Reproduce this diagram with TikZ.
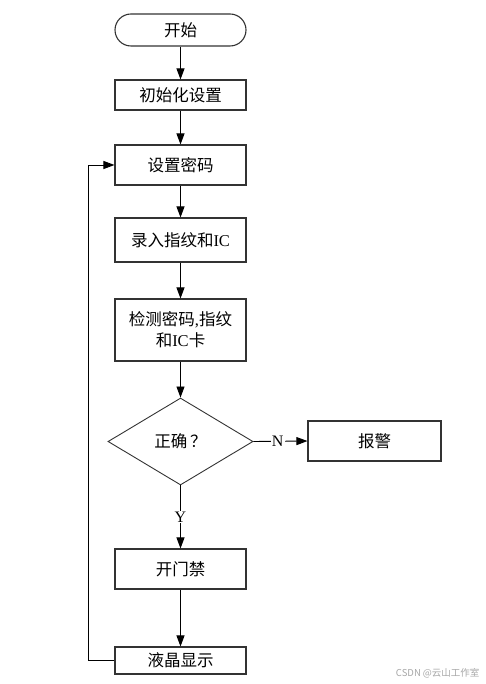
\documentclass[tikz,border=0pt]{standalone}
\usepackage{fontspec}
\setmainfont{Liberation Serif}
\newfontfamily\cjk{Noto Sans CJK SC}
\usetikzlibrary{arrows.meta,shapes.geometric,positioning}
\begin{document}
\begin{tikzpicture}[x=1pt,y=-1pt,
  box/.style={draw=black!80,line width=1.1pt,minimum width=131pt,inner sep=2pt,align=center,font=\fontsize{16.5}{21}\selectfont},
  term/.style={box,rounded corners=16pt,minimum height=32pt},
  dec/.style={draw=black!80,line width=0.9pt,diamond,aspect=1.67,minimum width=145pt,minimum height=87pt,inner sep=0pt,font=\fontsize{16.5}{21}\selectfont},
  arr/.style={draw,line width=0.9pt,-{Triangle[length=11pt,width=8pt]}},
  lab/.style={fill=white,inner sep=1pt,font=\fontsize{16}{18}\selectfont}]
\useasboundingbox (0,0) rectangle (486,684);
\node[term] (start) at (180.5,30) {\cjk 开始};
\node[box,minimum height=30pt] (init) at (180.5,95) {\cjk 初始化设置};
\node[box,minimum height=40pt] (pwd) at (180.5,165) {\cjk 设置密码};
\node[box,minimum height=44pt] (rec) at (180.5,240) {{\cjk 录入指纹和}IC};
\node[box,minimum height=62pt] (chk) at (180.5,330) {{\cjk 检测密码}{,}{\cjk 指纹}\\{\cjk 和}IC{\cjk 卡}};
\node[dec] (ok) at (180.5,441.5) {{\cjk 正确}\,{\cjk ？}};
\node[box,minimum width=133pt,minimum height=40pt] (alarm) at (374.5,441) {\cjk 报警};
\node[box,minimum height=40pt] (open) at (180.5,569) {\cjk 开门禁};
\node[box,minimum height=27pt] (lcd) at (180.5,660.5) {\cjk 液晶显示};
\coordinate (c1) at (88,660.5);
\coordinate (c2) at (88,165);
\draw[arr] (start) -- (init);
\draw[arr] (init) -- (pwd);
\draw[arr] (pwd) -- (rec);
\draw[arr] (rec) -- (chk);
\draw[arr] (chk) -- (ok);
\draw[arr] (ok.east) -- node[lab,pos=0.45] (nl) {N} (alarm.west);
\draw[arr] (ok.south) -- node[lab,pos=0.5] (yl) {Y} (open.north);
\draw[arr] (open) -- (lcd);
\draw[arr] (lcd.west) -- (c1) -- (c2) -- (pwd.west);
\node[text=black!35,font=\cjk\fontsize{9.5}{10}\selectfont,anchor=east] (wm) at (483,673) {CSDN @云山工作室};
\end{tikzpicture}
\end{document}
